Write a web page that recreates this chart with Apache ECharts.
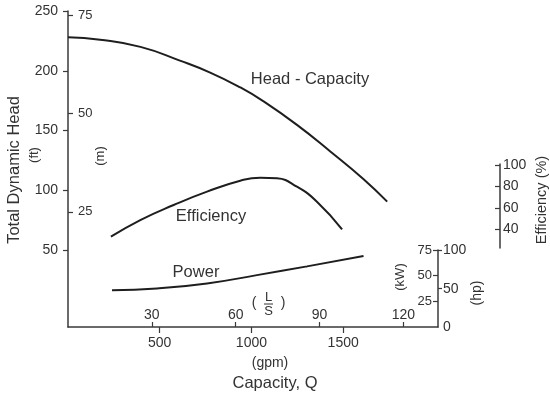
<!DOCTYPE html>
<html>
<head>
<meta charset="utf-8">
<script src="https://cdn.jsdelivr.net/npm/echarts@6/dist/echarts.min.js"></script>
<style>
  html, body { margin: 0; padding: 0; background: #fff; }
  #chart { width: 550px; height: 398px; }
</style>
</head>
<body>
<div id="chart"></div>
<script>
// pump curve: head (ft), efficiency (%), power (hp) vs capacity (gpm)
var headFlow = [0, 175, 395, 610, 775, 940, 1065, 1250, 1430, 1610, 1740];
var headFt = [228, 226, 220, 208.5, 198.5, 186, 174.5, 154.5, 132.5, 109.5, 90.5];

var effFlow = [234, 394, 576, 758, 939, 1048, 1139, 1248, 1357, 1494];
var effPct = [33.3, 48.8, 62.8, 75.2, 85.4, 88.2, 87.6, 79.8, 65.9, 40.2];

var powerFlow = [240, 485, 758, 1030, 1303, 1611];
var powerHp = [48.1, 50.4, 56.9, 67.8, 79.2, 92.7];

// tick labels
var ftTicks = [50, 100, 150, 200, 250];
var mTicks = [25, 50, 75];
var gpmTicks = [500, 1000, 1500];
var lsTicks = [30, 60, 90, 120];
var effTicks = [40, 60, 80, 100];
var kwTicks = [25, 50, 75];
var hpTicks = [50, 100];
var hpLabels = [0, 50, 100];

var FONT = '"Liberation Sans", Arial, sans-serif';
var INK = '#333';
var AXIS = '#3a3a3a';

function pairs(xs, ys) {
  return xs.map(function (x, i) { return [x, ys[i]]; });
}

function plain(v) { return String(v); }

function axisBase(extra) {
  var base = {
    type: 'value',
    splitLine: { show: false },
    axisLine: { show: true, onZero: false, lineStyle: { color: AXIS, width: 1.5 } },
    axisTick: { show: true, length: 5, lineStyle: { color: AXIS, width: 1.2 } },
    axisLabel: { color: INK, fontFamily: FONT, fontSize: 14, formatter: plain }
  };
  for (var k in extra) {
    if (typeof extra[k] === 'object' && base[k] && !Array.isArray(extra[k])) {
      base[k] = Object.assign({}, base[k], extra[k]);
    } else {
      base[k] = extra[k];
    }
  }
  return base;
}

var chart = echarts.init(document.getElementById('chart'));

function curve(name, data, yIdx) {
  return {
    name: name,
    type: 'line',
    xAxisIndex: 0,
    yAxisIndex: yIdx,
    data: data,
    smooth: 0.5,
    showSymbol: false,
    silent: true,
    lineStyle: { color: '#1e1e1e', width: 2 }
  };
}

function label(text, x, y, size, rot) {
  return {
    type: 'text',
    x: x,
    y: y,
    rotation: rot || 0,
    style: {
      text: text,
      font: size + 'px ' + FONT,
      fill: INK,
      align: 'center',
      verticalAlign: 'middle'
    }
  };
}

chart.setOption({
  animation: false,
  backgroundColor: '#fff',
  grid: [
    { left: 68, top: 11, right: 112, bottom: 71 },
    { left: 500, top: 164, width: 20, height: 84 },
    { left: 438, top: 250, width: 20, height: 77 }
  ],
  xAxis: [
    axisBase({
      gridIndex: 0, position: 'bottom', min: 0, max: 2017,
      axisTick: { customValues: gpmTicks, length: 6 },
      axisLabel: { customValues: gpmTicks, margin: 9, fontSize: 14 }
    }),
    axisBase({
      gridIndex: 0, position: 'bottom', min: 0, max: 132.4,
      axisLine: { show: false, onZero: false },
      axisTick: { customValues: lsTicks, inside: true, length: 5 },
      axisLabel: { customValues: lsTicks, inside: true, margin: 5, fontSize: 14 }
    }),
    { type: 'value', gridIndex: 1, show: false },
    { type: 'value', gridIndex: 2, show: false }
  ],
  yAxis: [
    axisBase({
      gridIndex: 0, position: 'left', min: -14.4, max: 250,
      axisTick: { customValues: ftTicks },
      axisLabel: { customValues: ftTicks, margin: 10, fontSize: 14 }
    }),
    axisBase({
      gridIndex: 0, position: 'left', min: -4.39, max: 76.2,
      axisLine: { show: false, onZero: false },
      axisTick: { customValues: mTicks, inside: true },
      axisLabel: { customValues: mTicks, inside: true, margin: 10, fontSize: 13 }
    }),
    { type: 'value', gridIndex: 0, show: false, min: -50.7, max: 243.3 },
    { type: 'value', gridIndex: 0, show: false, min: 0, max: 412.9 },
    axisBase({
      gridIndex: 1, position: 'left', min: 22.8, max: 100.9,
      axisTick: { customValues: effTicks },
      axisLabel: { customValues: effTicks, inside: true, margin: 3, fontSize: 14 }
    }),
    axisBase({
      gridIndex: 2, position: 'left', min: 0, max: 75,
      axisTick: { customValues: kwTicks },
      axisLabel: { customValues: kwTicks, margin: 6, fontSize: 13 }
    }),
    axisBase({
      gridIndex: 2, position: 'left', min: 0, max: 100.6,
      axisLine: { show: false, onZero: false },
      axisTick: { customValues: hpTicks, inside: true, length: 4 },
      axisLabel: { customValues: hpLabels, inside: true, margin: 5, fontSize: 14 }
    })
  ],
  series: [
    curve('Head - Capacity', pairs(headFlow, headFt), 0),
    curve('Efficiency', pairs(effFlow, effPct), 2),
    curve('Power', pairs(powerFlow, powerHp), 3)
  ],
  graphic: [
    label('Total Dynamic Head', 14, 170, 16.5, Math.PI / 2),
    label('(ft)', 34, 155, 13, Math.PI / 2),
    label('(m)', 100, 156, 13, Math.PI / 2),
    label('Head - Capacity', 310, 79, 16.5),
    label('Efficiency', 211, 216, 16.5),
    label('Power', 196, 272, 16.5),
    label('Efficiency (%)', 542, 200, 14.5, Math.PI / 2),
    label('(kW)', 400, 277, 13, Math.PI / 2),
    label('(hp)', 477, 293, 14, Math.PI / 2),
    label('(gpm)', 270, 363, 14),
    label('Capacity, Q', 275, 383, 16.5),
    // L/s fraction
    label('(', 254, 303, 14),
    label(')', 283, 303, 14),
    label('L', 268.5, 297, 13),
    label('S', 268.5, 311, 13),
    {
      type: 'line',
      shape: { x1: 264, y1: 304, x2: 273, y2: 304 },
      style: { stroke: INK, lineWidth: 1 }
    }
  ]
});
</script>
</body>
</html>
